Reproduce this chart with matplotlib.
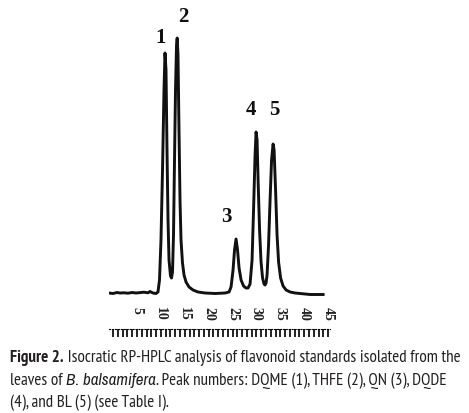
import numpy as np
import matplotlib
matplotlib.use("Agg")
import matplotlib.pyplot as plt

# chromatogram trace (time in min, detector signal in a.u.)
t = [-0.86, -0.02, 0.82, 1.45, 2.28, 3.12, 3.96, 4.80, 5.63, 6.47, 7.31, 7.73, 8.36, 8.98,
     9.40, 9.72, 10.03, 10.35, 10.66, 10.87, 11.08, 11.29, 11.50, 11.71, 12.02, 12.23, 12.44,
     12.65, 12.86, 13.07, 13.28, 13.42, 13.59, 13.80, 14.01, 14.22, 14.53, 14.85, 15.27, 15.90,
     16.73, 17.78, 19.25, 21.36, 23.44, 24.27, 24.69, 25.11, 25.42, 25.74, 26.05, 26.37, 26.79,
     27.31, 27.83, 28.25, 28.67, 29.09, 29.40, 29.72, 29.93, 30.14, 30.35, 30.66, 30.97, 31.29,
     31.60, 31.81, 32.02, 32.23, 32.54, 32.86, 33.17, 33.49, 33.70, 34.01, 34.32, 34.64, 35.06,
     35.58, 36.21, 37.05, 38.10, 39.14, 40.19, 41.24, 42.29, 43.33, 43.96]
signal = [0, -0.5, 0.5, 0, 0.2, -0.2, 0.5, 0, 0.4, 0.8, 0.2, 1.5, 0, -0.5,
          1, 13, 53, 123, 203, 240, 223, 143, 73, 33, 17, 15, 21,
          58, 133, 203, 248, 255, 238, 163, 93, 53, 30, 18, 11, 6,
          3, 1, 0, -0.5, 0, 1, 6, 23, 43, 54, 43, 25, 13,
          7, 5, 5, 9, 33, 83, 138, 161, 153, 113, 63, 31, 15,
          9, 8, 10, 18, 48, 93, 133, 149, 143, 103, 58, 31, 15,
          7, 3, 1, 0, -0.5, -1, -1.5, -1.5, -1.5, -1.5]

peak_labels = ["1", "2", "3", "4", "5"]
peak_label_t = [9.85, 14.64, 23.67, 28.87, 33.69]
peak_label_s = [255, 276, 76, 183, 183]

tick_values = [5, 10, 15, 20, 25, 30, 35, 40, 45]
ruler_ticks = np.arange(0, 46)

W, H = 469, 413
fig = plt.figure(figsize=(W / 100, H / 100), dpi=100)

ax = fig.add_axes([109 / W, (H - 300) / H, (330 - 109) / W, 290 / H])
ax.plot(t, signal, color="#111111", lw=2.1, solid_joinstyle="round")
ax.set_xlim(-0.85, 45.4)
ax.set_ylim(-7, 283)
for lab, xt, ys in zip(peak_labels, peak_label_t, peak_label_s):
    ax.text(xt, ys, lab, ha="center", va="center", fontsize=15, fontweight="bold",
            family="Liberation Serif", color="#111111")
for s in ax.spines.values():
    s.set_visible(False)
ax.set_yticks([])
ax.set_xticks(tick_values)
ax.set_xticklabels([str(v) for v in tick_values], rotation=-90, family="Liberation Serif",
                   fontweight="bold", fontsize=10, color="#222222")
ax.tick_params(axis="x", length=0, pad=5)

# ruler under the tick labels
rx = fig.add_axes([109 / W, (H - 336) / H, (330 - 109) / W, 7 / H])
rx.set_xlim(-0.85, 45.4)
rx.set_ylim(0, 1)
rx.set_yticks([])
rx.set_xticks(ruler_ticks)
rx.tick_params(axis="x", bottom=False, labelbottom=False, top=True, direction="in",
               length=6, width=1.4, color="#222222")
for k, s in rx.spines.items():
    s.set_visible(k == "top")
rx.spines["top"].set_linestyle(":")
rx.spines["top"].set_linewidth(0.8)
rx.patch.set_visible(False)

# caption
cap_font = ["PT Sans Narrow", "Archivo Narrow", "Roboto Condensed", "DejaVu Sans"]
ital_font = ["Archivo Narrow", "Roboto Condensed", "Fira Sans Condensed", "DejaVu Sans"]
lines = [
    (358, [("Figure 2.", "bold", "normal"),
           (" Isocratic RP-HPLC analysis of flavonoid standards isolated from the", "normal", "normal")]),
    (381, [("leaves of ", "normal", "normal"), ("B. balsamifera", "normal", "italic"),
           (". Peak numbers: DQME (1), THFE (2), QN (3), DQDE", "normal", "normal")]),
    (403, [("(4), and BL (5) (see Table I).", "normal", "normal")]),
]
renderer = fig.canvas.get_renderer()


def draw_caption(size):
    texts = []
    widths = []
    for ypix, parts in lines:
        x = 10
        for txt, wgt, sty in parts:
            fam = ital_font if sty == "italic" else cap_font
            tt = fig.text(x / W, 1 - ypix / H, txt, ha="left", va="center", fontweight=wgt,
                          fontstyle=sty, family=fam, fontstretch="condensed",
                          fontsize=size, color="#231f20")
            x += tt.get_window_extent(renderer).width
            texts.append(tt)
        widths.append(x - 10)
    return texts, widths


texts, widths = draw_caption(12)
size = 12 * 448 / widths[0]
for tt in texts:
    tt.remove()
draw_caption(size)

fig.savefig("out.png", dpi=100)
